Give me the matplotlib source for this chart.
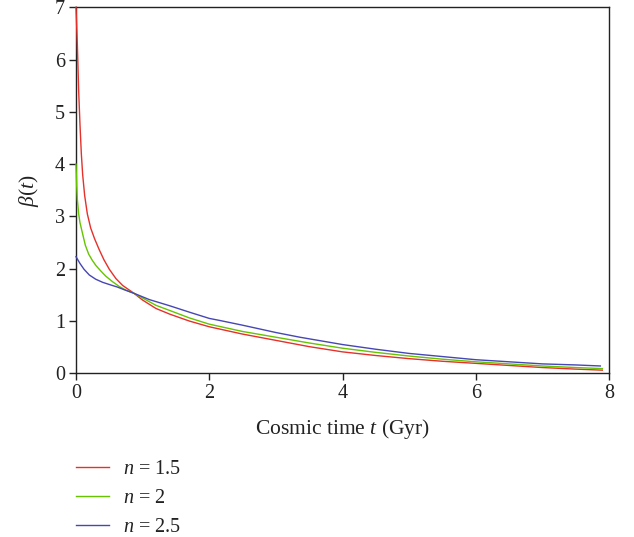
import matplotlib
matplotlib.use("Agg")
import matplotlib.pyplot as plt

plt.rcParams['font.family'] = ['Liberation Serif', 'DejaVu Serif']
plt.rcParams['mathtext.fontset'] = 'custom'
plt.rcParams['mathtext.rm'] = 'Liberation Serif'
plt.rcParams['mathtext.it'] = 'Liberation Serif:italic'

# n = 1.5 (red)
t_red = [0, 0.02, 0.04, 0.06, 0.08, 0.1, 0.13, 0.17, 0.22, 0.28, 0.35, 0.42, 0.5,
         0.6, 0.7, 0.87, 1.0, 1.2, 1.41, 1.7, 2.0, 2.5, 3.0, 3.5, 4.0, 4.5, 5.0,
         5.5, 6.0, 6.5, 7.0, 7.5, 7.9]
b_red = [7.0, 6.3, 5.4, 4.75, 4.2, 3.8, 3.4, 3.05, 2.78, 2.57, 2.36, 2.17, 1.99,
         1.81, 1.68, 1.53, 1.40, 1.24, 1.13, 1.00, 0.89, 0.75, 0.63, 0.51, 0.41,
         0.34, 0.28, 0.23, 0.19, 0.15, 0.11, 0.08, 0.06]

# n = 2 (green)
t_green = [0, 0.01, 0.02, 0.04, 0.06, 0.095, 0.14, 0.19, 0.245, 0.3, 0.37, 0.445,
           0.55, 0.65, 0.75, 0.87, 1.0, 1.2, 1.41, 1.7, 2.0, 2.5, 3.0, 3.5, 4.0,
           4.5, 5.0, 5.5, 6.0, 6.5, 7.0, 7.5, 7.9]
b_green = [4.0, 3.6, 3.33, 3.05, 2.88, 2.69, 2.45, 2.28, 2.16, 2.06, 1.96, 1.86,
           1.75, 1.66, 1.59, 1.53, 1.44, 1.30, 1.20, 1.06, 0.94, 0.80, 0.69, 0.58,
           0.48, 0.40, 0.33, 0.27, 0.22, 0.18, 0.14, 0.11, 0.09]

# n = 2.5 (blue)
t_blue = [0, 0.06, 0.12, 0.2, 0.295, 0.4, 0.52, 0.62, 0.72, 0.87, 1.1, 1.41, 1.7,
          2.0, 2.16, 2.5, 3.0, 3.36, 4.0, 4.5, 5.0, 5.5, 6.0, 6.5, 7.0, 7.5, 7.87]
b_blue = [2.23, 2.1, 1.99, 1.88, 1.80, 1.74, 1.69, 1.65, 1.60, 1.53, 1.41, 1.29,
          1.17, 1.05, 1.01, 0.92, 0.78, 0.69, 0.55, 0.46, 0.38, 0.32, 0.26, 0.22,
          0.18, 0.16, 0.14]

labels = ['$n$ = 1.5', '$n$ = 2', '$n$ = 2.5']
colors = ['#e6302a', '#66c400', '#4646b4']
xticks = [0, 2, 4, 6, 8]
yticks = [0, 1, 2, 3, 4, 5, 6, 7]

fig = plt.figure(figsize=(6.34, 5.37), dpi=100)
ax = fig.add_axes([76/634, 1-373.3/537, (609-76)/634, (373.3-7.3)/537])

for t, b, c, lab in zip([t_red, t_green, t_blue], [b_red, b_green, b_blue], colors, labels):
    ax.plot(t, b, color=c, lw=1.0, label=lab, zorder=4, clip_on=False)

ax.set_xlim(0, 8)
ax.set_ylim(0, 7)
ax.set_xticks(xticks)
ax.set_yticks(yticks)
ax.tick_params(direction='out', length=5, width=1, labelsize=14.5, colors='#222222', pad=3)
for s in ax.spines.values():
    s.set_linewidth(1.0)
    s.set_color('#222222')

ax.set_xlabel('Cosmic time $t$ (Gyr)', fontsize=15.5, color='#222222', labelpad=10)
ax.set_ylabel(r'$\beta$($t$)', fontsize=15.5, color='#222222', labelpad=10)

leg = fig.legend(loc='upper left', bbox_to_anchor=(76/634, 1-460/537), frameon=False,
                 fontsize=14.5, handlelength=1.65, handletextpad=0.7, labelspacing=0.5,
                 borderaxespad=0, borderpad=0)
for txt in leg.get_texts():
    txt.set_color('#222222')

fig.savefig('out.png', dpi=100)
